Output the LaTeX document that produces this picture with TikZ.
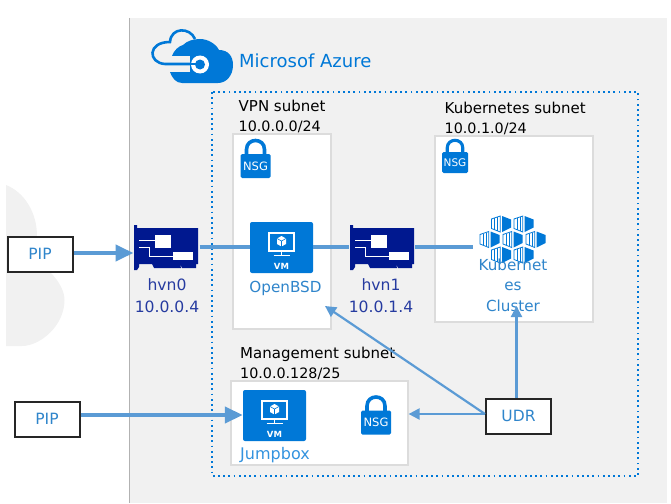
\documentclass[tikz,border=0pt]{standalone}
\usepackage{fontspec}
\setmainfont{DejaVu Sans}
\usepackage{xcolor}
\usepackage{tikz}
\usetikzlibrary{calc, arrows.meta, positioning}
\definecolor{azure}{HTML}{0078D7}
\definecolor{nicblue}{HTML}{00188F}
\definecolor{linkblue}{HTML}{5B9BD5}
\definecolor{labelblue}{HTML}{2F85CB}
\definecolor{panelgray}{HTML}{F1F1F1}
\definecolor{boxgray}{HTML}{DCDCDC}
\newcommand{\ipline}[1]{{\fontsize{14.3}{19.5}\selectfont #1}}
\tikzset{
    subnetnode/.style = {draw=boxgray, fill=white, line width=1.2pt, rectangle, inner sep=0pt},
    blacknode/.style = {draw=black!85, fill=white, line width=2pt, rectangle, inner sep=0pt, 
      minimum width=65pt, minimum height=35pt, text=labelblue, font=\fontsize{15.5}{18}\selectfont},
    textnode/.style = {draw=none, fill=none, rectangle, inner sep=0pt, align=left, 
      font=\fontsize{15}{19.5}\selectfont},
    azurenode/.style = {textnode, align=center, text=labelblue, font=\fontsize{15.2}{20.5}\selectfont},
    nicnode/.style = {textnode, align=center, text=nicblue!85!white, font=\fontsize{15.6}{22}\selectfont},
    nsgnode/.style = {fill=azure, rectangle, rounded corners=1.5pt, inner sep=0pt, text=white},
    vmnode/.style = {fill=azure, rectangle, rounded corners=2pt, inner sep=0pt, minimum width=63pt, 
      minimum height=51pt, text=white},
    thick link/.style = {linkblue, line width=4pt},
    thick arrow/.style = {thick link, -{Triangle[length=18pt, width=16pt]}},
    thin arrow/.style = {linkblue, line width=2.2pt, -{Triangle[length=11pt, width=11pt]}},
    nic/.pic = {
      \fill [nicblue] (0,0) -- (3,0) -- (3,3) -- (64,3) -- (64,39) -- (62,39) -- (62,43) -- (48,43) -- (46,39) 
        -- (47,43) -- (20,43) -- (18,39) -- (5,39) -- (5,42) -- (3,45) -- (0,45) -- cycle;
      \fill [white] (21,10) rectangle (37,23);
      \fill [white] (39,27) rectangle (59,35);
      \draw [white, line width=0.8pt] (5,15) -- (21,15) (5,22) -- (15,22) -- (15,31) -- (39,31);
    },
    kubecube/.pic = {
      \fill [azure] (0.5,-8) -- (9.5,-4.5) -- (9.5,3.5) -- (0.5,8) -- cycle;
      \draw [azure, line width=0.8pt, fill=white] (-1.2,-8) -- (-10,-5) -- (-10,4.5) -- (-1.2,8) -- cycle;
      \draw [azure, line width=0.7pt] (-7,-6) -- (-7,5.5) (-4,-7) -- (-4,6.5);
    }
}
\newcommand{\locknode}[6]{% name, x, y, width, height of the body, font size
    \node [name=#1, nsgnode, minimum width=#4pt, minimum height=#5pt, font=\fontsize{#6}{10}\selectfont] at (#2,#3) {NSG};
    \draw [azure, line width=#4*0.12pt] ($(#1.north)+(-#4*0.3,0.5)$) -- ++(0,-#5*0.2) 
      .. controls +(0,-#4*0.4) and +(0,-#4*0.4) .. ++(#4*0.6,0) -- ++(0,#5*0.2);
}
\newcommand{\vmicon}[3]{% name, x, y
    \node [name=#1, vmnode] at (#2,#3) {};
    \node [name=#1text, textnode, text=white, font=\fontsize{8.5}{10}\bfseries\selectfont] at ($(#1.south)+(0,-7)$) {VM};
    \draw [white, line width=1.6pt] ($(#1.center)+(-12.5,-14.5)$) rectangle ($(#1.center)+(12.5,3.5)$);
    \draw [white, line width=1.6pt] ($(#1.center)+(0,3.5)$) -- ++(0,4) ($(#1.center)+(-8,8)$) -- ++(16,0);
    \fill [white] ($(#1.center)+(0,-11.5)$) -- ++(4.5,2.5) -- ++(0,5.5) -- ++(-4.5,2.5) -- ++(-4.5,-2.5) -- ++(0,-5.5) -- cycle;
    \draw [azure, line width=0.6pt] ($(#1.center)+(-4.5,-9)$) -- ++(4.5,2.5) -- ++(4.5,-2.5) ($(#1.center)+(0,-6.5)$) -- ++(0,8);
}
\begin{document}
\begin{tikzpicture}[x=1pt, y=-1pt]
    \useasboundingbox (0,0) rectangle (671,503);

    % internet cloud behind the first PIP
    \fill [panelgray] (6,185) .. controls (24,192) and (37,212) .. (37,236) -- (50,272) 
      .. controls (60,282) and (64.5,292) .. (64.5,300) .. controls (64.5,326) and (40,346) .. (22,346) -- (6,346) -- cycle;

    % azure panel
    \fill [panelgray] (130,18) rectangle (667,503);
    \draw [black!30, line width=0.8pt] (129.5,18) -- (129.5,503);

    % azure logo
    \draw [azure, line width=2.6pt] (192,64) -- (165,64) .. controls (148,63) and (147,42) .. (170,42) 
      .. controls (171,27) and (190,27) .. (195,39);
    \fill [azure] (170,72) -- (190,72) -- (190,56) -- (172,56) .. controls (174,50) and (179,46) .. (183,45) 
      .. controls (187,41) and (193,39) .. (200,39) 
      .. controls (208,39) and (216,44) .. (219,50) .. controls (228,50) and (233,56) .. (233,65) 
      .. controls (233,76) and (226,83) .. (218,83) -- (182,83) .. controls (176,83) and (172,78) .. (170,72) -- cycle;
    \fill [white] (200,64.5) circle (9);
    \draw [azure, line width=2.6pt] (168,64) -- (200,64);
    \fill [azure] (200,64.5) circle (5);
    \node [name=azuretitle, textnode, text=azure, anchor=west, font=\fontsize{18}{22}\selectfont] at (239,61) {Microsof Azure};

    % vnet
    \draw [azure, line width=1.8pt, dash pattern=on 1.8pt off 3.4pt] (212,92) rectangle (638,476);

    % subnets
    \node [name=vpnbox, subnetnode, minimum width=98pt, minimum height=195pt] at (282,231.5) {};
    \node [name=kubebox, subnetnode, minimum width=158pt, minimum height=186pt] at (514,229) {};
    \node [name=mgmtbox, subnetnode, minimum width=177pt, minimum height=84pt] at (319.5,423) {};
    \node [name=vpntext, textnode, anchor=south west] at (238.5,133) {VPN subnet\\\ipline{10.0.0.0/24}};
    \node [name=kubetext, textnode, anchor=south west] at (444.5,135) {Kubernetes subnet\\\ipline{10.0.1.0/24}};
    \node [name=mgmttext, textnode, anchor=south west] at (240,380) {Management subnet\\\ipline{10.0.0.128/25}};

    % nsg locks
    \locknode{nsgvpn}{255.5}{166}{30}{24}{11.5}
    \locknode{nsgkube}{455}{162.5}{26}{21}{10.5}
    \locknode{nsgmgmt}{376}{422.5}{30}{24}{11.5}

    % vms
    \vmicon{vmvpn}{281.5}{247.5}
    \vmicon{vmjump}{274.5}{415.5}
    \node [name=openbsd, azurenode] at (285.5,288) {OpenBSD};
    \node [name=jumpbox, azurenode, text=azure!80!white, font=\fontsize{16}{21}\selectfont] at (275,455) {Jumpbox};

    % network cards
    \pic at (134,225) {nic};
    \pic at (350,225) {nic};
    \coordinate (hvn0in) at (133.5,253);
    \coordinate (hvn0out) at (199.5,247);
    \coordinate (hvn1in) at (349,247);
    \coordinate (hvn1out) at (415,247);
    \node [name=hvn0text, nicnode] at (167,296) {hvn0\\10.0.0.4};
    \node [name=hvn1text, nicnode] at (381,296) {hvn1\\10.0.1.4};

    % kubernetes cluster
    \foreach \cx/\cy in {501.5/224, 524/224, 490/239.5, 513/239.5, 536/239.5, 501.5/255, 524/255} {
      \pic at (\cx,\cy) {kubecube};
    }
    \coordinate (kubein) at (473,247);
    \coordinate (kubeudr) at (516.5,306);
    \node [name=kubetitle, azurenode] at (513,285) {Kubernet\\es\\Cluster};

    % public ips and route table
    \node [name=pip1, blacknode] at (40,254) {PIP};
    \node [name=pip2, blacknode] at (47,419) {PIP};
    \node [name=udr, blacknode] at (518.5,416) {UDR};
    \coordinate (bsdudr) at (325,306);

    % links
    \draw [thick arrow] (pip1.east |- hvn0in) -- (hvn0in);
    \draw [thick link] (hvn0out) -- (vmvpn.west |- hvn0out);
    \draw [thick link] (vmvpn.east |- hvn1in) -- (hvn1in);
    \draw [thick link] (hvn1out) -- (kubein);
    \draw [thick arrow] (pip2.east |- 0,415) -- (vmjump.west |- 0,415);
    \draw [thin arrow] (udr.west |- 0,414) -- (mgmtbox.east |- 0,414);
    \draw [thin arrow] (udr.west |- 0,414) -- (bsdudr);
    \draw [thin arrow] (kubeudr |- udr.north) -- (kubeudr);
\end{tikzpicture}
\end{document}
